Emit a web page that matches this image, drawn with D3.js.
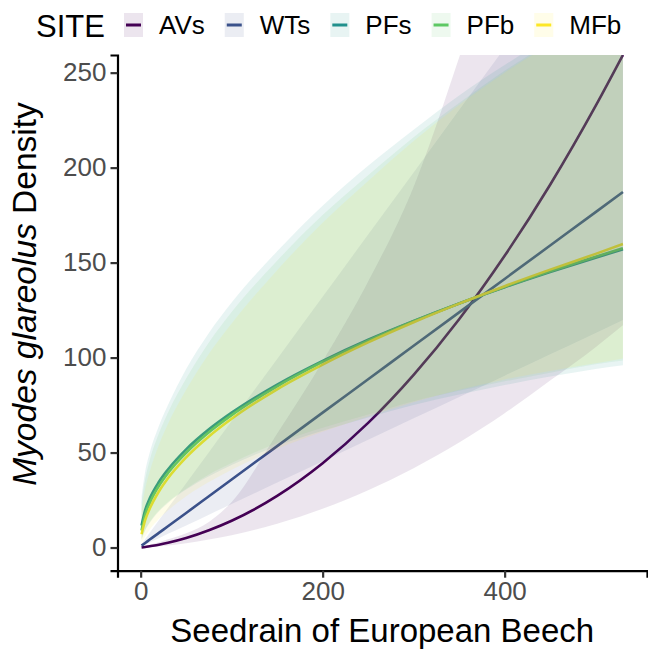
<!DOCTYPE html>
<html>
<head>
<meta charset="utf-8">
<script src="https://cdn.jsdelivr.net/npm/d3@7"></script>
<style>
  body { margin: 0; background: #fff; }
  text { font-family: "Liberation Sans", Arial, Helvetica, sans-serif; }
</style>
</head>
<body>
<div id="chart-area"></div>
<script>
// seedrain grid the fitted curves were read at
const seedrain = [1, 5, 10, 20, 30, 50, 75, 100, 150, 200, 250, 300, 350, 400, 450, 500, 530];

const sites = ["AVs", "WTs", "PFs", "PFb", "MFb"];
const siteColors = ["#440154", "#3B528B", "#21908C", "#5DC863", "#FDE725"];

// fitted density
const fitAVs = [0.1, 0.3, 0.7, 1.5, 2.5, 5.0, 9.1, 14.1, 27.2, 44.4, 65.6, 90.9, 120.2, 153.6, 191, 232.5, 259.3];
const fitWTs = [1.0, 2.4, 4.2, 7.7, 11.2, 18.2, 27, 35.8, 53.4, 71, 88.6, 106.2, 123.8, 141.4, 159, 176.6, 187.2];
const fitPFs = [11.6, 19.8, 25.9, 34.5, 41.1, 51.7, 62.2, 71, 85.8, 98.3, 109.4, 119.3, 128.5, 137, 145, 152.6, 157];
const fitPFb = [9, 17.3, 23.5, 32.4, 39.2, 49.9, 60.7, 69.7, 84.9, 97.7, 108.9, 119.1, 128.5, 137.2, 145.4, 153.1, 157.6];
const fitMFb = [7, 14.5, 20.5, 29.5, 36.5, 47.5, 58.5, 67.8, 83.3, 96.3, 108, 118.6, 128.4, 137.6, 146.3, 154.6, 159.8];

// confidence band, lower
const lowAVs = [0.05, 0.15, 0.3, 0.7, 1.1, 2.3, 4.2, 6.5, 12.5, 20.4, 30.2, 41.8, 55.3, 70.7, 87.9, 105.5, 117];
const lowWTs = [0.6, 1.5, 2.7, 4.9, 7.2, 11.6, 17.3, 22.9, 34.2, 45.4, 56.7, 68, 79.2, 90.5, 101.8, 113, 119.8];
const lowPFs = [4, 9, 13, 19, 23.5, 30.5, 37.5, 43.5, 53.5, 61.5, 68.5, 75, 80.5, 85.5, 90, 94, 96];
const lowPFb = [4.5, 9.5, 13.5, 19.5, 24, 31, 38.5, 44.5, 55, 63, 70, 77, 82.5, 87.5, 92, 96.5, 98.5];
const lowMFb = [2.5, 6, 9.5, 15, 19.5, 27, 34.5, 41, 52, 61, 69, 76.5, 83, 88.5, 93, 97, 99.5];

// confidence band, upper
const upAVs = [0.3, 0.7, 1.4, 2.8, 4.3, 7.5, 13.5, 24, 60, 98, 140, 190, 258, 333, 415, 500, 555];
const upWTs = [1.9, 4.5, 7.8, 14.3, 20.8, 33.9, 50.2, 66.6, 99.3, 132, 164.8, 197.5, 230.3, 263, 295.7, 328.5, 348.2];
const upPFs = [27, 40, 50, 64, 75, 94, 113, 129, 156, 180, 201, 220, 238, 254, 269, 283, 291];
const upPFb = [24, 36, 46, 60, 71, 89, 108, 124, 151, 175, 196, 216, 234, 251, 266, 280, 288];
const upMFb = [20, 31, 40, 54, 65, 83, 102, 118, 146, 171, 193, 214, 233, 250, 265, 279, 287];

const xTicks = [0, 200, 400];
const yTicks = [0, 50, 100, 150, 200, 250];

const fits = [fitAVs, fitWTs, fitPFs, fitPFb, fitMFb];
const lows = [lowAVs, lowWTs, lowPFs, lowPFb, lowMFb];
const ups = [upAVs, upWTs, upPFs, upPFb, upMFb];

const series = sites.map((s, i) => ({
    site: s,
    color: siteColors[i],
    values: seedrain.map((x, j) => ({x: x, fit: fits[i][j], lo: lows[i][j], hi: ups[i][j]}))
}));

const width = 648;
const height = 650;
const margin = {top: 55, right: 1, bottom: 79.3, left: 117.5};
const innerW = width - margin.left - margin.right;
const innerH = height - margin.top - margin.bottom;

const svg = d3.select("#chart-area")
    .append("svg")
    .attr("width", width)
    .attr("height", height);

// ggplot style 5% expansion
const x = d3.scaleLinear()
    .domain([-25.45, 556.45])
    .range([0, innerW]);

const y = d3.scaleLinear()
    .domain([-12.2, 259.3])
    .range([innerH, 0]);

const g = svg.append("g")
    .attr("transform", "translate(" + margin.left + "," + margin.top + ")");

svg.append("defs").append("clipPath")
    .attr("id", "panel")
    .append("rect")
    .attr("width", innerW)
    .attr("height", innerH);

const plot = g.append("g").attr("clip-path", "url(#panel)");

const line = d3.line()
    .x(d => x(d.x))
    .y(d => y(d.fit))
    .curve(d3.curveMonotoneX);

const band = d3.area()
    .x(d => x(d.x))
    .y0(d => y(d.lo))
    .y1(d => y(d.hi))
    .curve(d3.curveMonotoneX);

// lines sit under the bands, like the original
plot.selectAll("path.fit")
    .data(series)
    .enter()
    .append("path")
    .attr("class", "fit")
    .attr("d", d => line(d.values))
    .attr("fill", "none")
    .attr("stroke", d => d.color)
    .attr("stroke-width", 2.6);

plot.selectAll("path.band")
    .data(series)
    .enter()
    .append("path")
    .attr("class", "band")
    .attr("d", d => band(d.values))
    .attr("fill", d => d.color)
    .attr("fill-opacity", 0.1);

// axes
const xAxisCall = d3.axisBottom(x).tickValues(xTicks).tickSize(7).tickPadding(4);
const yAxisCall = d3.axisLeft(y).tickValues(yTicks).tickSize(7).tickPadding(4);

const gx = g.append("g")
    .attr("transform", "translate(0," + innerH + ")")
    .call(xAxisCall);
const gy = g.append("g")
    .call(yAxisCall);

[gx, gy].forEach(ax => {
    ax.select(".domain").attr("stroke", "#000").attr("stroke-width", 2.2);
    ax.selectAll(".tick line").attr("stroke", "#333").attr("stroke-width", 2.2);
    ax.selectAll(".tick text")
        .attr("fill", "#4D4D4D")
        .style("font-size", "26px")
        .style("font-family", "'Liberation Sans', Arial, sans-serif");
});

g.append("text")
    .attr("x", innerW / 2)
    .attr("y", innerH + 71)
    .attr("text-anchor", "middle")
    .style("font-size", "33px")
    .text("Seedrain of European Beech");

const yTitle = svg.append("text")
    .attr("transform", "translate(36,294) rotate(-90)")
    .attr("text-anchor", "middle")
    .style("font-size", "33.5px");
yTitle.append("tspan").style("font-style", "italic").text("Myodes glareolus");
yTitle.append("tspan").text(" Density");

// legend
const legend = svg.append("g");
legend.append("text")
    .attr("x", 36)
    .attr("y", 37)
    .style("font-size", "31px")
    .text("SITE");

let lx = 124;
series.forEach(s => {
    const key = legend.append("g").attr("transform", "translate(" + lx + ",13)");
    key.append("rect")
        .attr("width", 19)
        .attr("height", 24)
        .attr("fill", s.color)
        .attr("fill-opacity", 0.1);
    key.append("line")
        .attr("x1", 2).attr("x2", 17)
        .attr("y1", 12).attr("y2", 12)
        .attr("stroke", s.color)
        .attr("stroke-width", 3);
    const label = legend.append("text")
        .attr("x", lx + 35)
        .attr("y", 34)
        .style("font-size", "26px")
        .text(s.site);
    lx += 35 + label.node().getComputedTextLength() + 20;
});
</script>
</body>
</html>
